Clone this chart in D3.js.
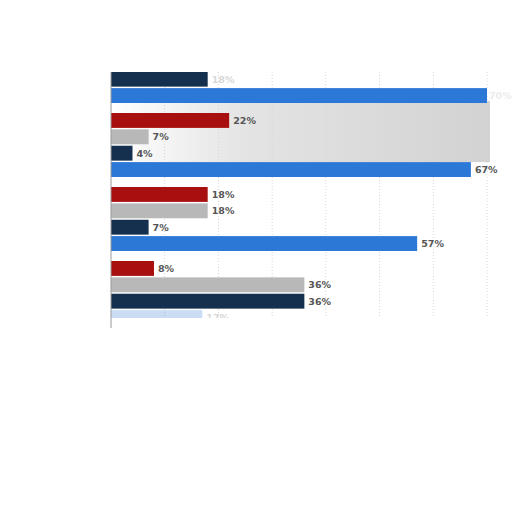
<!DOCTYPE html>
<html>
<head>
<meta charset="utf-8">
<script src="https://cdn.jsdelivr.net/npm/d3@7"></script>
<style>
  body { margin: 0; background: #fff; }
  svg { display: block; }
</style>
</head>
<body>
<svg id="chart" width="512" height="512"></svg>
<script>
// groups top to bottom, first one is cut off by the frame
const groups = ['g1', 'g2', 'g3', 'g4'];
const series = ['red', 'gray', 'navy', 'blue'];
const redValues = [null, 22, 18, 8];
const grayValues = [null, 7, 18, 36];
const navyValues = [18, 4, 7, 36];
const blueValues = [70, 67, 57, 17];
const xTicks = [0, 10, 20, 30, 40, 50, 60, 70];

const colors = {red: '#a80f0f', gray: '#b8b8b8', navy: '#15304f', blue: '#2b78d6'};
const valuesBySeries = {red: redValues, gray: grayValues, navy: navyValues, blue: blueValues};

const margin = {left: 111, top: 39};
const groupStep = 74, groupGap = 10;
const width = 376;

const svg = d3.select('#chart');

const x = d3.scaleLinear().domain([0, 70]).range([0, width]);
const y0 = d3.scaleBand()
    .domain(groups)
    .range([0, groups.length * groupStep - groupGap])
    .paddingInner(groupGap / groupStep);
const y1 = d3.scaleBand()
    .domain(series)
    .range([0, y0.bandwidth()])
    .paddingInner(0.09);

const defs = svg.append('defs');
defs.append('clipPath').attr('id', 'frame')
  .append('rect').attr('x', 0).attr('y', 72 - margin.top)
    .attr('width', 512 - margin.left).attr('height', 318 - 72);

const shade = defs.append('linearGradient').attr('id', 'shade');
shade.append('stop').attr('offset', '0%').attr('stop-color', '#ffffff');
shade.append('stop').attr('offset', '35%').attr('stop-color', '#e4e4e4');
shade.append('stop').attr('offset', '100%').attr('stop-color', '#d2d2d2');

const g = svg.append('g').attr('transform', `translate(${margin.left},${margin.top})`);
const plot = g.append('g').attr('clip-path', 'url(#frame)');

// soft grey panel behind the second group
plot.append('rect')
    .attr('x', 0).attr('y', y0('g2') - 12)
    .attr('width', x(70) + 3).attr('height', y1.step() * 3 + 12)
    .attr('fill', 'url(#shade)');

// grid
plot.append('g')
  .selectAll('line')
  .data(xTicks.slice(1))
  .join('line')
    .attr('x1', d => x(d)).attr('x2', d => x(d))
    .attr('y1', 72 - margin.top).attr('y2', 325 - margin.top)
    .attr('stroke', '#d6d6d6')
    .attr('stroke-dasharray', '1,2');

const rows = [];
groups.forEach((grp, i) => {
  series.forEach(s => {
    const v = valuesBySeries[s][i];
    if (v != null) rows.push({group: grp, series: s, value: v, first: i === 0, last: i === groups.length - 1});
  });
});

plot.append('g')
  .selectAll('rect')
  .data(rows)
  .join('rect')
    .attr('x', 0)
    .attr('y', d => y0(d.group) + y1(d.series))
    .attr('width', d => x(d.value))
    .attr('height', y1.bandwidth())
    .attr('fill', d => colors[d.series])
    .attr('opacity', d => (d.last && d.series === 'blue') ? 0.25 : 1);

// faded labels where the picture fades out
function labelColor(d) {
  if (d.first && d.series === 'blue') return '#ececec';
  if (d.first || (d.last && d.series === 'blue')) return '#d8d8d8';
  return '#555';
}

const labelMaxX = 512 - margin.left - 23;

plot.append('g')
  .selectAll('text')
  .data(rows)
  .join('text')
    .attr('x', d => Math.min(x(d.value) + 4, labelMaxX))
    .attr('y', d => y0(d.group) + y1(d.series) + y1.bandwidth() / 2)
    .attr('dy', '0.35em')
    .attr('font-family', 'DejaVu Sans, sans-serif')
    .attr('font-size', 9.5)
    .attr('font-weight', 'bold')
    .attr('fill', labelColor)
    .text(d => d.value + '%');

// left axis line
g.append('line')
    .attr('x1', 0).attr('x2', 0)
    .attr('y1', 72 - margin.top).attr('y2', 328 - margin.top)
    .attr('stroke', '#9a9a9a');
</script>
</body>
</html>
